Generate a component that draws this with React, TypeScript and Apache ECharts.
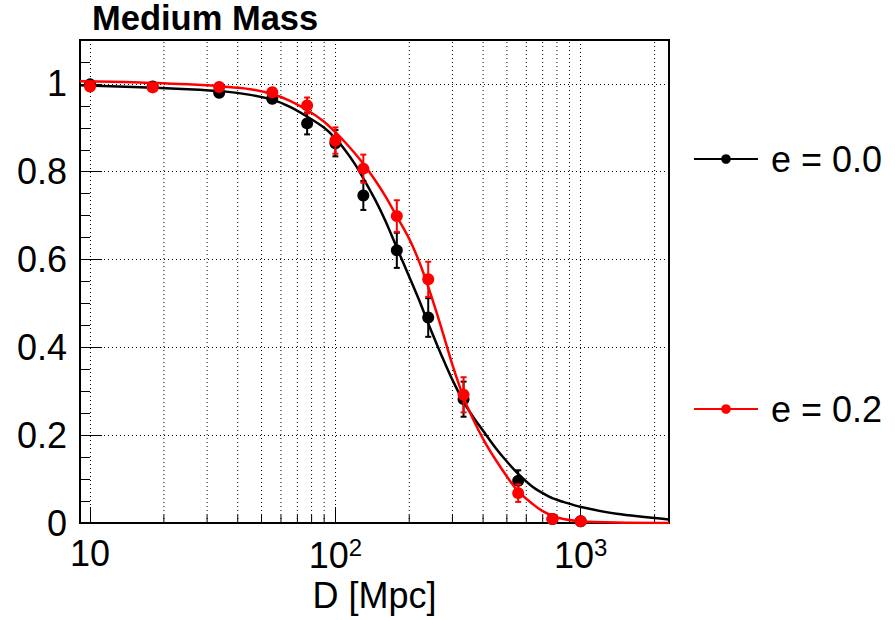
import React, { useEffect, useRef } from 'react';
import * as echarts from 'echarts';

const FONT = '"Liberation Sans", Arial, Helvetica, sans-serif';

// Measured points (distance in Mpc)
const distances = [10, 18, 33.6, 55.3, 76.7, 100, 130, 178, 239, 333, 556, 767, 1000];
const eff00 = [0.999, 0.994, 0.980, 0.966, 0.910, 0.865, 0.746, 0.621, 0.468, 0.282, 0.096, 0.009, 0.004];
const err00 = [0.003, 0.004, 0.006, 0.008, 0.025, 0.03, 0.033, 0.04, 0.044, 0.04, 0.024, 0.006, 0.004];
const eff02 = [0.994, 0.992, 0.993, 0.981, 0.951, 0.871, 0.807, 0.699, 0.555, 0.292, 0.068, 0.009, 0.004];
const err02 = [0.003, 0.004, 0.005, 0.008, 0.018, 0.03, 0.032, 0.036, 0.04, 0.04, 0.02, 0.005, 0.003];

// Fit curves
const fitD = [9.1, 15, 25, 35, 45, 56, 65, 77.5, 90, 100, 110, 120, 130, 145, 160, 178, 200, 220, 240, 260, 280, 300, 333, 365, 405, 450, 500, 556, 638, 700, 770, 850, 993, 1400, 2290];
const fit00 = [0.997, 0.993, 0.988, 0.983, 0.975, 0.963, 0.948, 0.924, 0.900, 0.876, 0.848, 0.818, 0.785, 0.737, 0.688, 0.627, 0.561, 0.506, 0.452, 0.405, 0.363, 0.326, 0.276, 0.241, 0.206, 0.171, 0.140, 0.112, 0.082, 0.068, 0.056, 0.048, 0.037, 0.021, 0.008];
const fit02 = [1.006, 1.004, 0.999, 0.994, 0.988, 0.976, 0.962, 0.939, 0.914, 0.890, 0.866, 0.842, 0.818, 0.781, 0.744, 0.698, 0.647, 0.594, 0.535, 0.475, 0.416, 0.360, 0.286, 0.235, 0.186, 0.144, 0.106, 0.072, 0.043, 0.027, 0.016, 0.009, 0.004, 0.001, 0.0];

// Minor vertical grid lines on the log axis
const xMinorGrid = [20, 30, 40, 50, 60, 70, 80, 90, 200, 300, 400, 500, 600, 700, 800, 900, 2000];

const X_MIN = 9.1;
const X_MAX = 2290;
const Y_MIN = 0;
const Y_MAX = 1.1;

function errorBarSeries(name: string, color: string, xs: number[], ys: number[], es: number[], z: number) {
  return {
    type: 'custom',
    name,
    silent: true,
    z,
    data: xs.map((x, i) => [x, ys[i] - es[i], ys[i] + es[i]]),
    encode: { x: 0, y: [1, 2] },
    renderItem: (_p: any, api: any) => {
      const lo = api.coord([api.value(0), api.value(1)]);
      const hi = api.coord([api.value(0), api.value(2)]);
      const c = 3;
      const st = { stroke: color, lineWidth: 2 };
      return {
        type: 'group',
        children: [
          { type: 'line', shape: { x1: lo[0], y1: lo[1], x2: hi[0], y2: hi[1] }, style: st },
          { type: 'line', shape: { x1: lo[0] - c, y1: lo[1], x2: lo[0] + c, y2: lo[1] }, style: st },
          { type: 'line', shape: { x1: hi[0] - c, y1: hi[1], x2: hi[0] + c, y2: hi[1] }, style: st },
        ],
      };
    },
  };
}

export default function App() {
  const ref = useRef<HTMLDivElement>(null);
  useEffect(() => {
    if (!ref.current) return;
    const chart = echarts.init(ref.current, null, { renderer: 'svg' });
    const legendText = { fontSize: 36, color: '#000', fontFamily: FONT, padding: [0, 0, 0, 8] };
    chart.setOption({
      animation: false,
      backgroundColor: '#fff',
      title: {
        text: 'Medium Mass',
        left: 92,
        top: 0,
        padding: 0,
        textStyle: { fontSize: 34.5, fontWeight: 'bold', color: '#000', fontFamily: FONT },
      },
      legend: [
        {
          data: ['e = 0.0'], left: 693, top: 141, padding: 0, itemWidth: 64, itemHeight: 12,
          selectedMode: false, textStyle: legendText,
        },
        {
          data: ['e = 0.2'], left: 693, top: 391, padding: 0, itemWidth: 64, itemHeight: 12,
          selectedMode: false, textStyle: legendText,
        },
      ],
      grid: {
        left: 80, right: 226, top: 40, bottom: 97,
        show: true, borderColor: '#000', borderWidth: 2, backgroundColor: 'transparent',
        outerBoundsMode: 'none',
      },
      xAxis: {
        type: 'log',
        logBase: 10,
        min: X_MIN,
        max: X_MAX,
        name: 'D [Mpc]',
        nameLocation: 'middle',
        nameGap: 54,
        nameTextStyle: { fontSize: 36, color: '#000', fontFamily: FONT },
        axisLine: { show: true, lineStyle: { color: '#000', width: 2 } },
        axisTick: { show: true, inside: true, length: 16, lineStyle: { color: '#000', width: 1 } },
        minorTick: { show: false },
        splitLine: { show: true, lineStyle: { color: '#000', type: [1, 3], width: 1 } },
        axisLabel: {
          show: true,
          margin: 12,
          color: '#000',
          fontSize: 36,
          fontFamily: FONT,
          showMinLabel: false,
          showMaxLabel: false,
          formatter: (v: number) => {
            const e = Math.round(Math.log10(v));
            if (Math.abs(v - Math.pow(10, e)) > 1e-6 * v) return '';
            return e === 1 ? '10' : `{b|10}{s|${e}}`;
          },
          rich: {
            b: { fontSize: 36, color: '#000', fontFamily: FONT, lineHeight: 40 },
            s: { fontSize: 24, color: '#000', fontFamily: FONT, verticalAlign: 'top', lineHeight: 24 },
          },
        },
      },
      yAxis: [
        {
          type: 'value',
          min: Y_MIN,
          max: Y_MAX,
          interval: 0.2,
          position: 'left',
          axisLine: { show: true, lineStyle: { color: '#000', width: 2 } },
          axisTick: { show: true, inside: true, length: 22, lineStyle: { color: '#000', width: 1 } },
          splitLine: { show: true, lineStyle: { color: '#000', type: [1, 3], width: 1 } },
          axisLabel: {
            margin: 13,
            color: '#000',
            fontSize: 36,
            fontFamily: FONT,
            showMaxLabel: false,
            formatter: (v: number) => (v > 1.05 ? '' : String(+v.toFixed(1))),
          },
        },
        {
          type: 'value',
          min: Y_MIN,
          max: Y_MAX,
          interval: 0.05,
          position: 'left',
          offset: 0,
          axisLine: { show: false },
          axisTick: { show: true, inside: true, length: 10, lineStyle: { color: '#000', width: 1 } },
          splitLine: { show: false },
          axisLabel: { show: false },
        },
      ],
      series: [
        {
          type: 'custom',
          name: 'grid',
          silent: true,
          z: 1,
          data: xMinorGrid.map((v) => [v, 0]),
          encode: { x: 0, y: 1 },
          renderItem: (_p: any, api: any) => {
            const v = api.value(0);
            const b = api.coord([v, Y_MIN]);
            const t = api.coord([v, Y_MAX]);
            return {
              type: 'group',
              children: [
                {
                  type: 'line',
                  shape: { x1: b[0], y1: b[1], x2: t[0], y2: t[1] },
                  style: { stroke: '#000', lineWidth: 1, lineDash: [1, 3] },
                },
                {
                  type: 'line',
                  shape: { x1: b[0], y1: b[1], x2: b[0], y2: b[1] - 8 },
                  style: { stroke: '#000', lineWidth: 1 },
                },
              ],
            };
          },
        },
        {
          type: 'line',
          name: 'e = 0.0',
          data: fitD.map((d, i) => [d, fit00[i]]),
          smooth: 0.3,
          symbol: 'circle',
          showSymbol: false,
          color: '#000',
          lineStyle: { color: '#000', width: 2.5 },
          itemStyle: { color: '#000' },
          z: 3,
          silent: true,
        },
        errorBarSeries('err00', '#000', distances, eff00, err00, 4),
        {
          type: 'scatter',
          name: 'pts00',
          data: distances.map((d, i) => [d, eff00[i]]),
          symbol: 'circle',
          symbolSize: 12,
          itemStyle: { color: '#000', opacity: 1 },
          z: 5,
          silent: true,
        },
        {
          type: 'line',
          name: 'e = 0.2',
          data: fitD.map((d, i) => [d, fit02[i]]),
          smooth: 0.3,
          symbol: 'circle',
          showSymbol: false,
          color: '#ff0000',
          lineStyle: { color: '#ff0000', width: 2.5 },
          itemStyle: { color: '#ff0000' },
          z: 6,
          silent: true,
        },
        errorBarSeries('err02', '#ff0000', distances, eff02, err02, 7),
        {
          type: 'scatter',
          name: 'pts02',
          data: distances.map((d, i) => [d, eff02[i]]),
          symbol: 'circle',
          symbolSize: 12,
          itemStyle: { color: '#ff0000', opacity: 1 },
          z: 8,
          silent: true,
        },
      ],
    });
    return () => chart.dispose();
  }, []);
  return (
    <div
      ref={ref}
      style={{ position: 'fixed', left: 0, top: 0, width: 895, height: 620, background: '#fff' }}
    />
  );
}
